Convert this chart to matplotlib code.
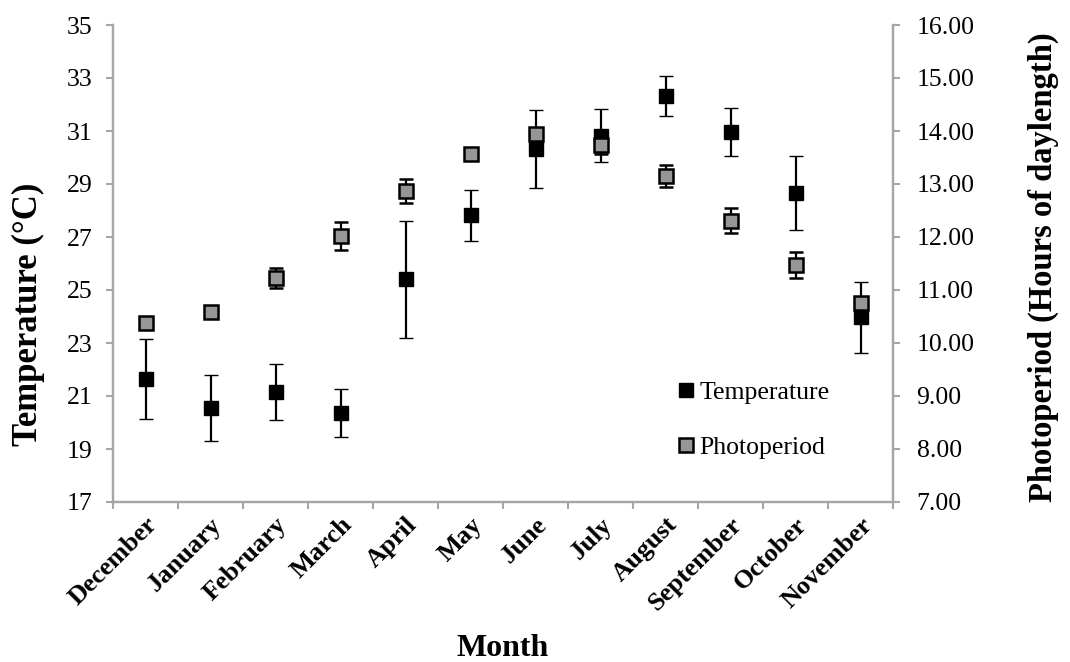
import matplotlib
matplotlib.use("Agg")
import matplotlib.pyplot as plt
from matplotlib.lines import Line2D
import numpy as np

months = ["December", "January", "February", "March", "April", "May", "June",
          "July", "August", "September", "October", "November"]
temp_mean = [21.65, 20.55, 21.15, 20.35, 25.40, 27.82, 30.32, 30.83, 32.33, 30.97, 28.65, 23.97]
temp_err = [1.50, 1.25, 1.05, 0.90, 2.20, 0.97, 1.46, 1.00, 0.76, 0.90, 1.39, 1.34]
photo_mean = [10.38, 10.58, 11.22, 12.02, 12.87, 13.57, 13.94, 13.74, 13.15, 12.31, 11.47, 10.75]
photo_err = [0.05, 0.05, 0.19, 0.26, 0.23, 0.08, 0.10, 0.18, 0.20, 0.24, 0.24, 0.10]
temp_ticks = [17, 19, 21, 23, 25, 27, 29, 31, 33, 35]
photo_ticks = [7, 8, 9, 10, 11, 12, 13, 14, 15, 16]

plt.rcParams['font.family'] = ['Liberation Serif', 'DejaVu Serif']

W, H = 1070, 662
fig = plt.figure(figsize=(W / 100, H / 100), dpi=100)
ax = fig.add_axes([113 / W, 1 - 502 / H, 780 / W, 477 / H])
ax2 = ax.twinx()

spine_col = '#a6a6a6'
x = np.arange(len(months))

ax.errorbar(x, temp_mean, yerr=temp_err, fmt='s', color='black', ms=10.5,
            mfc='black', mec='black', mew=1.0, ecolor='black', elinewidth=1.6,
            capsize=4.7, capthick=1.6, zorder=3)
ax2.errorbar(x, photo_mean, yerr=photo_err, fmt='s', color='black', ms=9.5,
             mfc='#969696', mec='black', mew=1.8, ecolor='black', elinewidth=1.6,
             capsize=4.7, capthick=1.6, zorder=3)

ax.set_xlim(-0.5, len(months) - 0.5)
ax.set_ylim(17, 35)
ax2.set_ylim(7, 16)
ax.set_yticks(temp_ticks)
ax.set_yticklabels([str(t) for t in temp_ticks])
ax2.set_yticks(photo_ticks)
ax2.set_yticklabels([f"{t:.2f}" for t in photo_ticks])

ax.set_xticks(np.arange(-0.5, len(months), 1.0))
ax.set_xticklabels([])
ax.set_xticks(x, minor=True)
ax.set_xticklabels(months, minor=True, rotation=45, ha='right',
                   rotation_mode='anchor', fontweight='bold', fontsize=19)
ax.tick_params(axis='x', which='minor', length=0, pad=8)
ax.tick_params(axis='x', which='major', length=5, width=1.5, color=spine_col, direction='out')
ax.tick_params(axis='y', length=5, width=1.5, color=spine_col, direction='out',
               labelsize=18.5, pad=10)
ax2.tick_params(axis='y', length=5, width=1.5, color=spine_col, direction='out',
                labelsize=18.5, pad=12)

for a in (ax, ax2):
    a.spines['top'].set_visible(False)
    for s in ('left', 'right', 'bottom'):
        a.spines[s].set_color(spine_col)
        a.spines[s].set_linewidth(1.6)

fig.text(28 / W, 1 - 314 / H, "Temperature (°C)", rotation=90, ha='center',
         va='center', fontsize=25, fontweight='bold')
fig.text(1043 / W, 1 - 267 / H, "Photoperiod (Hours of daylength)", rotation=90,
         ha='center', va='center', fontsize=23.5, fontweight='bold')
fig.text(503 / W, 1 - 648 / H, "Month", ha='center', va='center',
         fontsize=23, fontweight='bold')

handles = [
    Line2D([], [], ls='none', marker='s', ms=10.5, mfc='black', mec='black', mew=1.0),
    Line2D([], [], ls='none', marker='s', ms=9.5, mfc='#969696', mec='black', mew=1.8),
]
fig.legend(handles, ["Temperature", "Photoperiod"], loc='center left',
           bbox_to_anchor=(676 / W, 1 - 420 / H), frameon=False, fontsize=18.5,
           handlelength=0.75, handletextpad=0.15, labelspacing=1.25, borderpad=0,
           borderaxespad=0)

fig.savefig("out.png", dpi=100)
